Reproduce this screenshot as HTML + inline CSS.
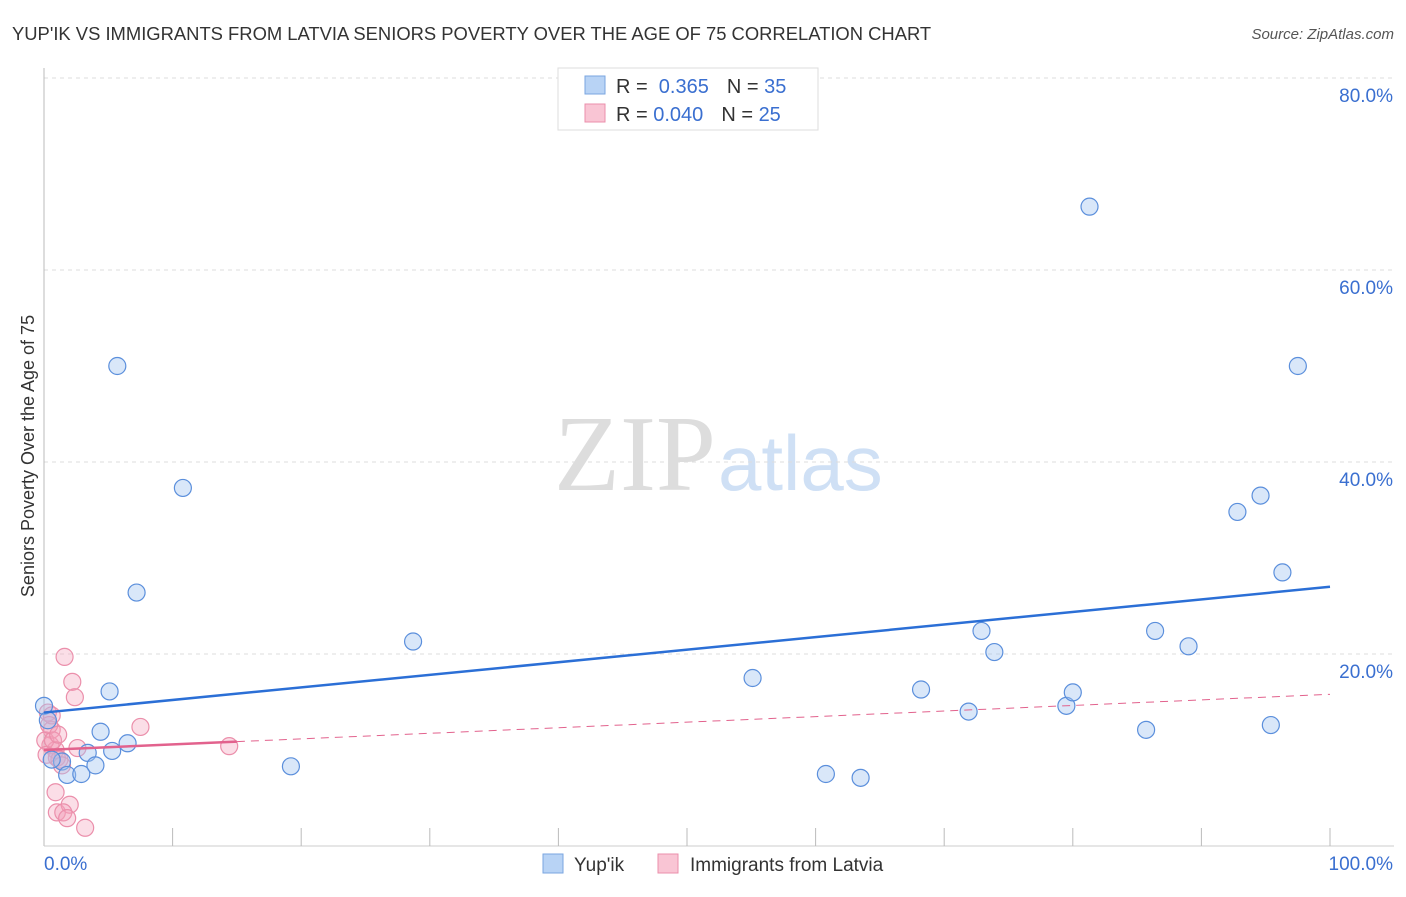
<!DOCTYPE html>
<html><head><meta charset="utf-8"><style>
body{margin:0;background:#fff;font-family:"Liberation Sans",sans-serif}
</style></head><body>
<svg width="1406" height="892" xmlns="http://www.w3.org/2000/svg" style="font-family:'Liberation Sans',sans-serif">
<text x="12" y="40" font-size="18.4" fill="#333">YUP'IK VS IMMIGRANTS FROM LATVIA SENIORS POVERTY OVER THE AGE OF 75 CORRELATION CHART</text>
<text x="1394" y="39" font-size="15" fill="#555" font-style="italic" text-anchor="end">Source: ZipAtlas.com</text>
<text x="716" y="490" font-size="108" fill="#ddd" text-anchor="end" font-family="Liberation Serif">ZIP</text>
<text x="718" y="490" font-size="78" fill="#cfe0f5">atlas</text>
<g id="grid"></g>
<g id="axes"></g>
<g id="marks"></g>
<text transform="translate(34,456) rotate(-90)" font-size="18" fill="#333" text-anchor="middle">Seniors Poverty Over the Age of 75</text>
<g>
<rect x="558" y="68" width="260" height="62" fill="#fff" stroke="#ddd"/>
<rect x="585" y="76" width="20" height="18" fill="#b8d3f5" stroke="#7aa6e0"/>
<rect x="585" y="104" width="20" height="18" fill="#f9c5d4" stroke="#eb8fab"/>
<text x="616" y="93" font-size="20" fill="#333">R = <tspan fill="#3a6fd0">&#160;0.365</tspan><tspan dx="18">N = </tspan><tspan fill="#3a6fd0">35</tspan></text>
<text x="616" y="121" font-size="20" fill="#333">R = <tspan fill="#3a6fd0">0.040</tspan><tspan dx="18">N = </tspan><tspan fill="#3a6fd0">25</tspan></text>
</g>
<g>
<rect x="543" y="854" width="20" height="19" fill="#b8d3f5" stroke="#7aa6e0"/>
<text x="574" y="871" font-size="19" fill="#333">Yup'ik</text>
<rect x="658" y="854" width="20" height="19" fill="#f9c5d4" stroke="#eb8fab"/>
<text x="690" y="871" font-size="19" fill="#333">Immigrants from Latvia</text>
</g>
</svg>
<script>
const yTicks=[20,40,60,80];
const yTickLabels=["20.0%","40.0%","60.0%","80.0%"];
const xTicks=[10,20,30,40,50,60,70,80,90,100];
const blueX=[0,5.7,10.8,7.2,5.1,4.4,6.5,3.4,5.3,1.4,4.0,1.8,2.9,19.2,28.7,55.1,60.8,63.5,68.2,71.9,72.9,73.9,79.5,80.0,81.3,85.7,86.4,89.0,92.8,94.6,96.3,97.5,95.4,0.6,0.3];
const blueY=[14.6,50.0,37.3,26.4,16.1,11.9,10.7,9.7,9.9,8.8,8.4,7.4,7.5,8.3,21.3,17.5,7.5,7.1,16.3,14.0,22.4,20.2,14.6,16.0,66.6,12.1,22.4,20.8,34.8,36.5,28.5,50.0,12.6,9.0,13.1];
const pinkX=[1.6,2.2,2.4,7.5,14.4,2.6,0.3,0.6,0.5,0.9,0.1,1.0,1.2,0.9,1.0,2.0,1.5,1.8,3.2,0.6,0.2,0.7,1.4,0.4,1.1];
const pinkY=[19.7,17.1,15.5,12.4,10.4,10.2,13.9,12.1,10.5,10.0,11.0,9.2,9.0,5.6,3.5,4.3,3.5,2.9,1.9,13.6,9.5,11.0,8.4,12.6,11.6];
const blueTrend=[13.9,27.0];
const pinkTrend=[10.0,15.8];
const pinkSolidEnd=15;
const X=v=>44+v*12.86, Y=v=>846-v*9.6;
const NS="http://www.w3.org/2000/svg";
function mk(p,t,a){const e=document.createElementNS(NS,t);for(const k in a)e.setAttribute(k,a[k]);document.getElementById(p).appendChild(e);return e;}
yTicks.forEach((t,i)=>{
 const g=mk('grid','line',{x1:44,x2:1394,y1:Y(t),y2:Y(t),stroke:'#ddd','stroke-dasharray':'4,4'});
 
 
 const l=mk('axes','text',{x:1393,y:Y(t)+24,'font-size':19,fill:'#3a6fd0','text-anchor':'end'});
 l.textContent=yTickLabels[i];
 
 
});
const ay=mk('axes','line',{x1:44,x2:44,y1:68,y2:846,stroke:'#bbb'});


const ax=mk('axes','line',{x1:44,x2:1394,y1:846,y2:846,stroke:'#ccc'});


xTicks.forEach(t=>{
 const k=mk('axes','line',{x1:X(t),x2:X(t),y1:828,y2:846,stroke:'#bbb'});
 
 
});
[[0,'0.0%','start',44],[100,'100.0%','end',1393]].forEach(d=>{
 const l=mk('axes','text',{x:d[3],y:870,'font-size':19,fill:'#3a6fd0','text-anchor':d[2]});
 l.textContent=d[1];
 
 
});
pinkX.forEach((x,i)=>{
 const c=mk('marks','circle',{cx:X(x),cy:Y(pinkY[i]),r:8.5,fill:'rgba(244,160,185,0.35)',stroke:'#eb8fab','stroke-width':1.2});
 
 
});
blueX.forEach((x,i)=>{
 const c=mk('marks','circle',{cx:X(x),cy:Y(blueY[i]),r:8.5,fill:'rgba(160,195,240,0.4)',stroke:'#5b8fdc','stroke-width':1.2});
 
 
});
const bt=mk('marks','line',{x1:X(0),y1:Y(blueTrend[0]),x2:X(100),y2:Y(blueTrend[1]),stroke:'#2b6fd6','stroke-width':2.5});


const pAt=v=>pinkTrend[0]+(pinkTrend[1]-pinkTrend[0])*v/100;
const pt=mk('marks','line',{x1:X(0),y1:Y(pinkTrend[0]),x2:X(pinkSolidEnd),y2:Y(pAt(pinkSolidEnd)),stroke:'#e2628d','stroke-width':2.5});


const pd=mk('marks','line',{x1:X(pinkSolidEnd),y1:Y(pAt(pinkSolidEnd)),x2:X(100),y2:Y(pinkTrend[1]),stroke:'#e2628d','stroke-width':1,'stroke-dasharray':'8,6'});


</script>
</body></html>
